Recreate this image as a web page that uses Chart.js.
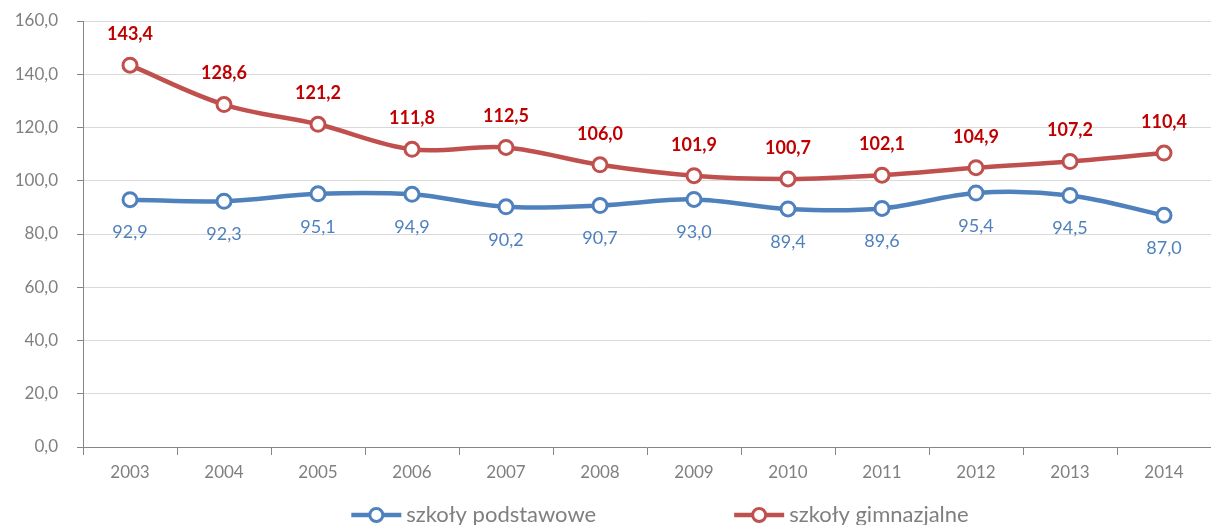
<!DOCTYPE html>
<html>
<head>
<meta charset="utf-8">
<script src="https://cdn.jsdelivr.net/npm/chart.js@4/dist/chart.umd.min.js"></script>
<style>
  html, body { margin: 0; padding: 0; background: #ffffff; }
  #wrap { width: 1211px; height: 525px; }
</style>
</head>
<body>
<div id="wrap"><canvas id="c" width="1211" height="525"></canvas></div>
<script>
const years = ['2003','2004','2005','2006','2007','2008','2009','2010','2011','2012','2013','2014'];
const podstawowe = [92.9, 92.3, 95.1, 94.9, 90.2, 90.7, 93.0, 89.4, 89.6, 95.4, 94.5, 87.0];
const gimnazjalne = [143.4, 128.6, 121.2, 111.8, 112.5, 106.0, 101.9, 100.7, 102.1, 104.9, 107.2, 110.4];
const seriesNames = ['szkoły podstawowe', 'szkoły gimnazjalne'];
const yTicksMin = 0, yTicksMax = 160, yTicksStep = 20;

const FONT = 'Lato, "Open Sans", sans-serif';
const BLUE = '#4F81BD';
const RED = '#C0504D';

function fmt(v) { return v.toFixed(1).replace('.', ','); }

const labelsPlugin = {
  id: 'valueLabels',
  afterDatasetsDraw(chart) {
    const ctx = chart.ctx;
    chart.data.datasets.forEach((ds, i) => {
      const meta = chart.getDatasetMeta(i);
      ctx.save();
      ctx.font = ds.labelFont;
      ctx.fillStyle = ds.labelColor;
      ctx.textAlign = 'center';
      ctx.textBaseline = 'middle';
      meta.data.forEach((pt, j) => {
        ctx.fillText(fmt(ds.data[j]), pt.x, pt.y + ds.labelOffset);
      });
      ctx.restore();
    });
  }
};

const legendPlugin = {
  id: 'customLegend',
  afterDraw(chart) {
    const ctx = chart.ctx;
    ctx.save();
    ctx.font = '22px ' + FONT;
    const lineLen = 50, gapText = 5, gapItems = 138;
    const items = chart.data.datasets.map(ds => ({
      label: ds.label, color: ds.borderColor,
      w: lineLen + gapText + ctx.measureText(ds.label).width
    }));
    const total = items.reduce((a, b) => a + b.w, 0) + gapItems * (items.length - 1);
    let x = 660 - total / 2;
    const y = 515;
    items.forEach(it => {
      ctx.strokeStyle = it.color;
      ctx.lineWidth = 4.5;
      ctx.beginPath();
      ctx.moveTo(x, y);
      ctx.lineTo(x + lineLen, y);
      ctx.stroke();
      ctx.beginPath();
      ctx.arc(x + lineLen / 2, y, 6.5, 0, Math.PI * 2);
      ctx.fillStyle = '#ffffff';
      ctx.fill();
      ctx.lineWidth = 3;
      ctx.stroke();
      ctx.fillStyle = '#7F7F7F';
      ctx.textAlign = 'left';
      ctx.textBaseline = 'middle';
      ctx.fillText(it.label, x + lineLen + gapText, y);
      x += it.w + gapItems;
    });
    ctx.restore();
  }
};

new Chart(document.getElementById('c'), {
  type: 'line',
  data: {
    labels: years,
    datasets: [
      {
        label: seriesNames[0],
        data: podstawowe,
        borderColor: BLUE,
        backgroundColor: '#ffffff',
        borderWidth: 4.5,
        pointRadius: 7,
        pointHoverRadius: 7,
        pointBorderWidth: 3,
        pointBackgroundColor: '#ffffff',
        pointBorderColor: BLUE,
        tension: 0.35,
        labelOffset: 33,
        labelColor: BLUE,
        labelFont: '18px ' + FONT
      },
      {
        label: seriesNames[1],
        data: gimnazjalne,
        borderColor: RED,
        backgroundColor: '#ffffff',
        borderWidth: 4.5,
        pointRadius: 7,
        pointHoverRadius: 7,
        pointBorderWidth: 3,
        pointBackgroundColor: '#ffffff',
        pointBorderColor: RED,
        tension: 0.35,
        labelOffset: -31,
        labelColor: '#C00000',
        labelFont: 'bold 18px ' + FONT
      }
    ]
  },
  options: {
    responsive: false,
    animation: false,
    devicePixelRatio: 1,
    layout: { autoPadding: false, padding: { top: 21, right: 0, left: 0, bottom: 0 } },
    plugins: { legend: { display: false }, tooltip: { enabled: false } },
    scales: {
      x: {
        type: 'category',
        offset: true,
        grid: { offset: true, drawOnChartArea: false, drawTicks: true, tickLength: 8, color: '#868686', lineWidth: 1 },
        border: { color: '#868686', width: 1 },
        ticks: { color: '#808080', font: { family: FONT, size: 17 }, padding: 7, maxRotation: 0 },
        afterFit(scale) { scale.height = 78; }
      },
      y: {
        min: yTicksMin,
        max: yTicksMax,
        ticks: {
          stepSize: yTicksStep,
          color: '#808080',
          font: { family: FONT, size: 17 },
          padding: 19,
          callback: v => fmt(v)
        },
        grid: { color: '#D9D9D9', lineWidth: 1, tickLength: 6, tickColor: '#868686' },
        border: { color: '#868686', width: 1 },
        afterFit(scale) { scale.width = 83; scale.paddingTop = 10; scale.paddingBottom = 10; }
      }
    }
  },
  plugins: [labelsPlugin, legendPlugin]
});
</script>
</body>
</html>
